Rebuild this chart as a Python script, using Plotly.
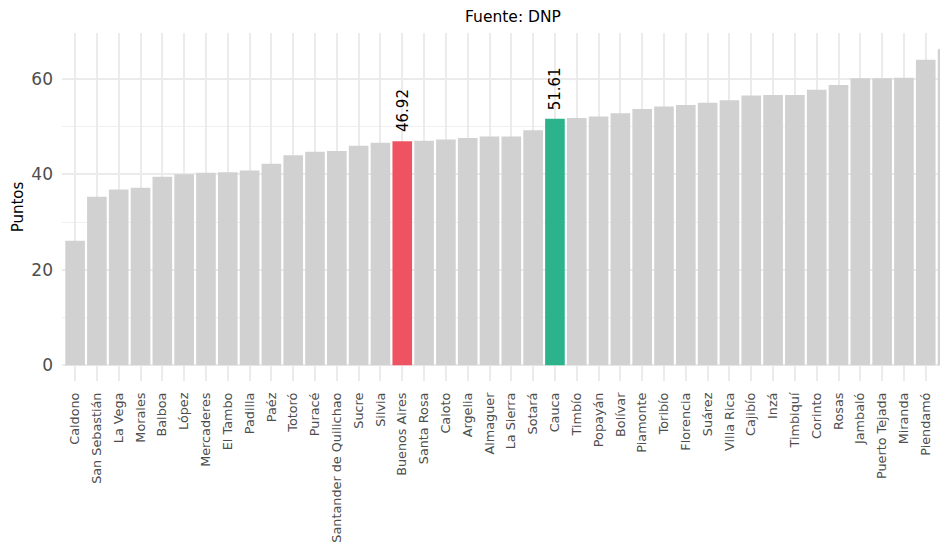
import plotly.graph_objects as go

# municipios ordenados por puntaje
municipios = [
    "Caldono", "San Sebastián", "La Vega", "Morales", "Balboa", "López",
    "Mercaderes", "El Tambo", "Padilla", "Paéz", "Totoró", "Puracé",
    "Santander de Quilichao", "Sucre", "Silvia", "Buenos Aires", "Santa Rosa",
    "Caloto", "Argelia", "Almaguer", "La Sierra", "Sotará", "Cauca", "Timbío",
    "Popayán", "Bolívar", "Piamonte", "Toribío", "Florencia", "Suárez",
    "Villa Rica", "Cajibío", "Inzá", "Timbiquí", "Corinto", "Rosas", "Jambaló",
    "Puerto Tejada", "Miranda", "Piendamó", "Guachené",
]
puntos = [
    26.1, 35.3, 36.8, 37.2, 39.5, 40.0, 40.3, 40.4, 40.8, 42.2, 44.0, 44.7,
    44.9, 46.0, 46.6, 46.92, 47.0, 47.3, 47.6, 47.9, 47.9, 49.2, 51.61, 51.8,
    52.1, 52.8, 53.7, 54.2, 54.5, 55.0, 55.5, 56.5, 56.6, 56.6, 57.7, 58.7,
    60.1, 60.1, 60.2, 64.0, 66.2,
]
destacados = {"Buenos Aires": "#EF5361", "Cauca": "#2CB38C"}

colores = [destacados.get(m, "#D1D1D1") for m in municipios]

fig = go.Figure(go.Bar(
    x=municipios, y=puntos, width=0.9,
    marker=dict(color=colores, line=dict(width=0)),
    hoverinfo="x+y",
))

# etiquetas de valor sobre las barras destacadas
for m, v in zip(municipios, puntos):
    if m in destacados:
        fig.add_annotation(
            x=m, y=v, text=f"{v:.2f}", textangle=-90, showarrow=False,
            yanchor="bottom", xanchor="center", yshift=7,
            font=dict(family="DejaVu Sans", size=15, color="black"),
        )

# la pagina deja 8px de margen en el body
fig.update_layout(
    width=940, height=540,
    margin=dict(l=54, r=0, t=25, b=167),
    paper_bgcolor="white", plot_bgcolor="white",
    font=dict(family="DejaVu Sans", color="#4D4D4D"),
    showlegend=False,
    title=dict(text="Fuente: DNP", xref="paper", x=0.509, xanchor="center",
               y=1 - 9 / 540, yanchor="middle",
               font=dict(size=15.5, color="black")),
)
fig.update_xaxes(
    type="category", range=[-0.6, 40.02], automargin=False,
    showgrid=True, gridcolor="#EBEBEB", gridwidth=1.5,
    tickangle=-90, ticks="", ticklabelstandoff=8,
    tickfont=dict(size=12.8, color="#4D4D4D"),
    zeroline=False, showline=False,
)
fig.update_yaxes(
    range=[-3.31, 69.6], tickvals=[0, 20, 40, 60], automargin=False,
    showgrid=True, gridcolor="#EBEBEB", gridwidth=1.5,
    minor=dict(tickvals=[10, 30, 50], showgrid=True, gridcolor="#F0F0F0", gridwidth=1),
    ticks="", ticklabelstandoff=8,
    tickfont=dict(size=17, color="#4D4D4D"),
    zeroline=False, showline=False,
    title=dict(text="Puntos", standoff=4, font=dict(size=15, color="black")),
)

fig.write_html("out.html")
